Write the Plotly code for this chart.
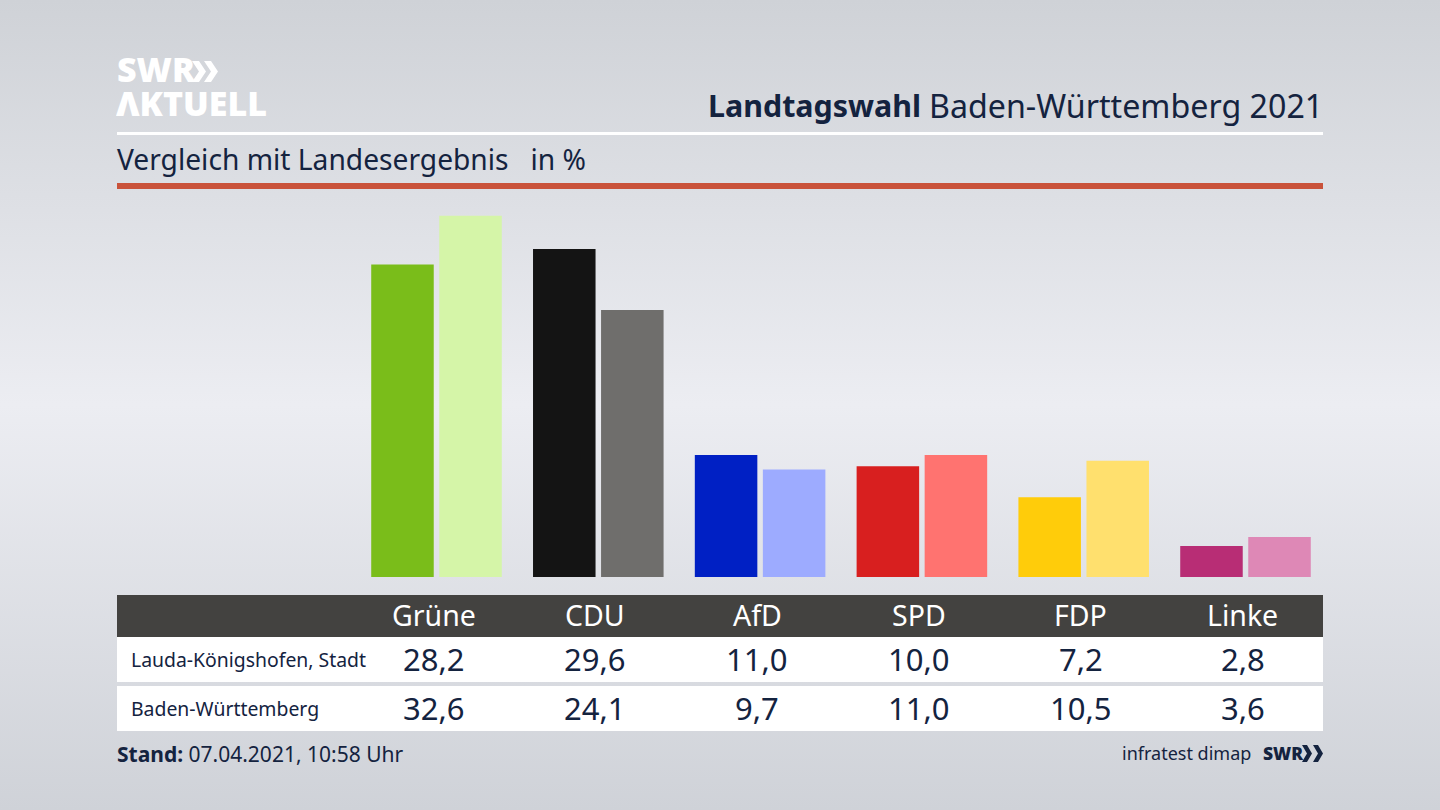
import plotly.graph_objects as go

parties = ['Grüne', 'CDU', 'AfD', 'SPD', 'FDP', 'Linke']
row_names = ['Lauda-Königshofen, Stadt', 'Baden-Württemberg']
lauda = [28.2, 29.6, 11.0, 10.0, 7.2, 2.8]
land = [32.6, 24.1, 9.7, 11.0, 10.5, 3.6]
lauda_colors = ['#7abd1a', '#141414', '#0020c4', '#d81f1f', '#ffcc0a', '#b82d75']
land_colors = ['#d5f5a8', '#6f6e6c', '#9dabff', '#ff7370', '#ffe06e', '#de88b6']

W, H = 1440, 810
FONT = 'Noto Sans'
NAVY = '#14233f'


def px(x):
    return x / W


def py(y):
    return 1 - y / H


def rect(x0, y0, x1, y1, color):
    return dict(type='rect', xref='paper', yref='paper', x0=px(x0), x1=px(x1), y0=py(y0), y1=py(y1),
                fillcolor=color, line_width=0, layer='below')


def chevron(x, y, w, h, color):
    # one ">" of the SWR logo
    t = w * 0.5
    pts = [(x, y), (x + t, y), (x + w, y + h / 2), (x + t, y + h), (x, y + h), (x + t, y + h / 2)]
    path = 'M ' + ' L '.join(f'{px(a):.5f} {py(b):.5f}' for a, b in pts) + ' Z'
    return dict(type='path', xref='paper', yref='paper', path=path, fillcolor=color, line_width=0)


def label(x, y, text, size, color=NAVY, anchor='left', xref='paper', weight=None, family=FONT, **kw):
    return dict(x=px(x) if xref == 'paper' else x, y=py(y), xref=xref, yref='paper', text=text, showarrow=False,
                xanchor=anchor, yanchor='middle', align=anchor, borderpad=0, borderwidth=0,
                font=dict(family=family, size=size, color=color, weight=weight), **kw)


def fmt(v):
    return f'{v:.1f}'.replace('.', ',')


fig = go.Figure()
fig.add_trace(go.Bar(x=parties, y=lauda, name=row_names[0], marker=dict(color=lauda_colors, line_width=0)))
fig.add_trace(go.Bar(x=parties, y=land, name=row_names[1], marker=dict(color=land_colors, line_width=0)))

shapes = [
    rect(117, 132, 1323, 135, '#ffffff'),
    rect(117, 183, 1323, 189, '#c9523a'),
    rect(117, 595, 1323, 637, '#434240'),
    rect(117, 637, 1323, 682, '#ffffff'),
    rect(117, 686, 1323, 731, '#ffffff'),
    chevron(192, 61, 14, 21, '#ffffff'),
    chevron(204, 61, 14, 21, '#ffffff'),
    chevron(1302, 745, 10, 17, NAVY),
    chevron(1313, 745, 10, 17, NAVY),
]

annotations = [
    label(117, 69, 'SWR', 34, '#ffffff', weight=800, family='Open Sans', height=32),
    label(116, 103, 'ΛKTUELL', 34, '#ffffff', weight=800, family='Open Sans', height=32),
    label(921, 105, '<b>Landtagswahl</b>', 30.4, anchor='right'),
    label(1323, 105, 'Baden-Württemberg 2021', 32.2, anchor='right'),
    label(117, 159.5, 'Vergleich mit Landesergebnis&nbsp;&nbsp;&nbsp;in %', 28.2),
    label(131, 659, row_names[0], 19.4),
    label(131, 708, row_names[1], 19.4),
    label(117, 754, '<b>Stand:</b> 07.04.2021, 10:58 Uhr', 21),
    label(1251, 753, 'infratest dimap', 18, anchor='right'),
    label(1263, 753, 'SWR', 17.5, weight=800, family='Open Sans'),
]
for i, party in enumerate(parties):
    annotations.append(label(party, 615, party, 28.5, '#ffffff', 'center', 'x', xshift=-3))
    annotations.append(label(party, 659, fmt(lauda[i]), 31, NAVY, 'center', 'x', xshift=-3))
    annotations.append(label(party, 708, fmt(land[i]), 31, NAVY, 'center', 'x', xshift=-3))

fig.update_layout(
    width=W, height=H,
    margin=dict(l=0, r=0, t=0, b=0),
    paper_bgcolor='rgba(0,0,0,0)',
    plot_bgcolor='rgba(0,0,0,0)',
    barmode='group', bargap=0.159, bargroupgap=0.081,
    showlegend=False,
    shapes=shapes,
    annotations=annotations,
    xaxis=dict(domain=[px(355.6), px(1326.4)], range=[-0.5, 5.5], visible=False, type='category'),
    yaxis=dict(domain=[py(577), py(205)], range=[0, 33.57], visible=False),
)

page_style = (
    "document.body.style.margin='0';"
    "document.body.style.minHeight='810px';"
    "document.body.style.background='linear-gradient(180deg, #cfd2d7 0%, #ecedf2 50%, #cfd2d8 100%)';"
)
fig.write_html('out.html', post_script=page_style, config=dict(displayModeBar=False))
